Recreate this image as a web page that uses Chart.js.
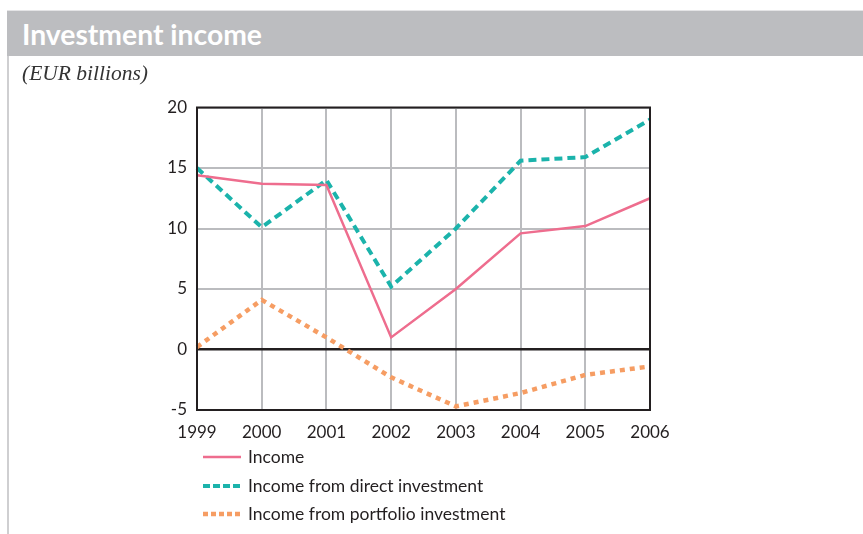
<!DOCTYPE html>
<html>
<head>
<meta charset="utf-8">
<script src="https://cdn.jsdelivr.net/npm/chart.js@4.4.0/dist/chart.umd.min.js"></script>
<style>
  body { margin: 0; background: #fff; }
  #wrap { position: relative; width: 863px; height: 534px; overflow: hidden; }
  #chart { position: absolute; left: 0; top: 0; }
  .bar {
    position: absolute; left: 7px; top: 10px; width: 856px; height: 46px;
    background: #bcbdc0; border-top: 1px solid #e4e4e6; box-sizing: border-box;
    color: #fff; font: bold 28.3px Lato, sans-serif; line-height: 46px; padding-left: 15px;
  }
  .sub {
    position: absolute; left: 22px; top: 61px;
    font: italic 21.5px "Liberation Serif", serif; color: #333;
  }
  .edge { position: absolute; left: 7px; top: 56px; width: 2px; height: 478px; background: #cfcfd1; }
</style>
</head>
<body>
<div id="wrap">
  <canvas id="chart" width="863" height="534"></canvas>
  <div class="bar">Investment income</div>
  <div class="sub">(EUR billions)</div>
  <div class="edge"></div>
</div>
<script>
const years = ['1999', '2000', '2001', '2002', '2003', '2004', '2005', '2006'];
const income = [14.4, 13.7, 13.6, 1.0, 5.0, 9.6, 10.2, 12.5];
const directIncome = [15.0, 10.1, 14.0, 5.2, 10.0, 15.6, 15.9, 19.0];
const portfolioIncome = [0.2, 4.1, 1.0, -2.3, -4.7, -3.6, -2.1, -1.4];

const gridGrey = '#bbbcbf';
const textColor = '#231f20';
// legend swatches use tighter dashes than the plotted lines
const legendDashes = [[], [7, 3], [5, 3]];

// frame round the plot plus the legend underneath it
const framePlugin = {
  id: 'frame',
  afterDatasetsDraw(chart) {
    const {ctx, chartArea: a} = chart;
    ctx.save();
    ctx.strokeStyle = '#231f20';
    ctx.lineWidth = 2;
    ctx.strokeRect(a.left, a.top, a.right - a.left, a.bottom - a.top);
    ctx.restore();
  },
  afterDraw(chart) {
    const ctx = chart.ctx;
    const rows = [457, 486, 514];
    ctx.save();
    ctx.font = '17.5px Lato, sans-serif';
    ctx.textBaseline = 'middle';
    chart.data.datasets.forEach((ds, i) => {
      const y = rows[i];
      ctx.strokeStyle = ds.borderColor;
      ctx.lineWidth = ds.borderWidth;
      ctx.setLineDash(legendDashes[i]);
      ctx.beginPath();
      ctx.moveTo(203, y);
      ctx.lineTo(241, y);
      ctx.stroke();
      ctx.setLineDash([]);
      ctx.fillStyle = textColor;
      ctx.fillText(ds.label, 248, y);
    });
    ctx.restore();
  }
};

new Chart(document.getElementById('chart'), {
  type: 'line',
  data: {
    labels: years,
    datasets: [
      {
        label: 'Income',
        data: income,
        borderColor: '#ee6d8e',
        borderWidth: 2.5,
        pointRadius: 0,
        tension: 0
      },
      {
        label: 'Income from direct investment',
        data: directIncome,
        borderColor: '#1bb3ab',
        borderWidth: 4,
        borderDash: [8, 5],
        pointRadius: 0,
        tension: 0
      },
      {
        label: 'Income from portfolio investment',
        data: portfolioIncome,
        borderColor: '#f69d63',
        borderWidth: 4.5,
        borderDash: [5, 5],
        pointRadius: 0,
        tension: 0
      }
    ]
  },
  options: {
    responsive: false,
    animation: false,
    layout: { padding: { left: 0, top: 107.5, right: 213, bottom: 0 } },
    plugins: { legend: { display: false }, tooltip: { enabled: false } },
    scales: {
      x: {
        afterFit: s => { s.height = 124; },
        border: { display: false },
        grid: { color: gridGrey, lineWidth: 2, drawTicks: false },
        ticks: { color: textColor, font: { family: 'Lato', size: 17 }, padding: 12, maxRotation: 0 }
      },
      y: {
        min: -5,
        max: 20,
        afterFit: s => { s.width = 197; },
        border: { display: false },
        grid: {
          color: c => c.tick && c.tick.value === 0 ? '#231f20' : gridGrey,
          lineWidth: c => c.tick && c.tick.value === 0 ? 2.5 : 2,
          drawTicks: false
        },
        ticks: { stepSize: 5, color: textColor, font: { family: 'Lato', size: 17 }, padding: 10 }
      }
    }
  },
  plugins: [framePlugin]
});
</script>
</body>
</html>
